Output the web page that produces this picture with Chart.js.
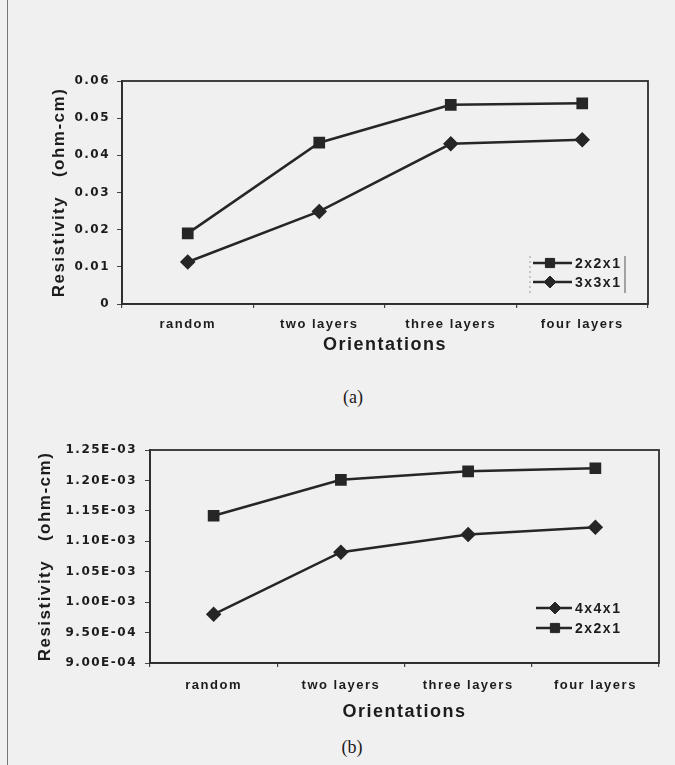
<!DOCTYPE html>
<html><head><meta charset="utf-8">
<script src="https://cdn.jsdelivr.net/npm/chart.js@4/dist/chart.umd.min.js"></script>
<style>
html,body{margin:0;padding:0;background:#f0f0f0;}
body{width:675px;height:765px;position:relative;overflow:hidden;}
.edge{position:absolute;left:7px;top:0;width:1px;height:765px;background:#777;}
#wa{position:absolute;left:0;top:50px;width:675px;height:314px;}
#wb{position:absolute;left:0;top:425px;width:675px;height:298px;}
.cap{position:absolute;font-family:"Liberation Serif",serif;font-size:18px;color:#1a1a1a;transform:translateX(-50%);}
</style></head><body>
<div class="edge"></div>
<div id="wa"><canvas id="ca"></canvas></div>
<div id="wb"><canvas id="cb"></canvas></div>
<div class="cap" style="left:353px;top:387px">(a)</div>
<div class="cap" style="left:352px;top:737px">(b)</div>
<script>
const orientations = ['random', 'two layers', 'three layers', 'four layers'];

// Figure (a)
const a_2x2x1 = [0.0190, 0.0434, 0.0536, 0.0540];
const a_3x3x1 = [0.0113, 0.0249, 0.0431, 0.0442];
const a_yTicks = ['0', '0.01', '0.02', '0.03', '0.04', '0.05', '0.06'];

// Figure (b)
const b_4x4x1 = [0.000980, 0.001082, 0.001111, 0.001123];
const b_2x2x1 = [0.001142, 0.001201, 0.001215, 0.001220];
const b_yTicks = ['9.00E-04', '9.50E-04', '1.00E-03', '1.05E-03', '1.10E-03', '1.15E-03', '1.20E-03', '1.25E-03'];

const INK = '#262626';
const TEXT = '#1c1c1c';
const SANS = '"Liberation Sans", Arial, sans-serif';
const WIDE = '"DejaVu Sans", sans-serif';

const spacing = {
  id: 'spacing',
  beforeUpdate(chart) { chart.ctx.letterSpacing = '1.5px'; },
  beforeDraw(chart) { chart.ctx.letterSpacing = '1.5px'; }
};

const frame = {
  id: 'frame',
  afterDraw(chart) {
    const {ctx, chartArea: a} = chart;
    ctx.save();
    ctx.strokeStyle = '#2e2e2e';
    ctx.lineWidth = 1.8;
    ctx.strokeRect(a.left, a.top, a.right - a.left, a.bottom - a.top);
    ctx.restore();
  }
};

const inLegend = {
  id: 'inLegend',
  afterDraw(chart, args, o) {
    const ctx = chart.ctx;
    ctx.save();
    chart.data.datasets.forEach((ds, i) => {
      const y = o.y + i * o.gap;
      ctx.strokeStyle = ds.borderColor;
      ctx.lineWidth = ds.borderWidth;
      ctx.beginPath(); ctx.moveTo(o.x, y); ctx.lineTo(o.x + o.len, y); ctx.stroke();
      ctx.fillStyle = ds.pointBackgroundColor;
      ctx.lineWidth = 1;
      Chart.helpers.drawPoint(ctx, {pointStyle: ds.pointStyle, radius: ds.pointRadius, borderWidth: 1, rotation: 0}, o.x + o.mark, y);
      ctx.fillStyle = TEXT;
      ctx.font = 'bold 14px ' + SANS;
      ctx.textBaseline = 'middle';
      ctx.textAlign = 'left';
      ctx.fillText(ds.label, o.x + o.len + 3, y + 1);
    });
    if (o.bracket) {
      ctx.strokeStyle = '#555'; ctx.lineWidth = 1;
      ctx.beginPath(); ctx.moveTo(o.bracket.r, o.bracket.t); ctx.lineTo(o.bracket.r, o.bracket.b); ctx.stroke();
      ctx.strokeStyle = '#999'; ctx.setLineDash([2, 3]);
      ctx.beginPath(); ctx.moveTo(o.bracket.l, o.bracket.t); ctx.lineTo(o.bracket.l, o.bracket.b); ctx.stroke();
    }
    ctx.restore();
  }
};

function ds(label, data, style, r) {
  return {
    label, data, borderColor: INK, backgroundColor: INK, borderWidth: 2.5,
    pointStyle: style, pointRadius: r, pointHoverRadius: r,
    pointBackgroundColor: INK, pointBorderColor: INK, tension: 0
  };
}

function makeChart(id, datasets, y, layout, legendOpts) {
  return new Chart(document.getElementById(id), {
    type: 'line',
    data: {labels: orientations, datasets},
    plugins: [spacing, frame, inLegend],
    options: {
      responsive: true, maintainAspectRatio: false, animation: false,
      layout: {padding: layout.padding},
      plugins: {legend: {display: false}, tooltip: {enabled: false}, inLegend: legendOpts},
      scales: {
        x: {
          type: 'category', offset: true,
          grid: {display: true, drawOnChartArea: false, drawTicks: true, tickLength: 4, offset: true, color: '#444', lineWidth: 1.2},
          border: {display: true, color: '#2e2e2e', width: 1.8},
          ticks: {font: {family: SANS, size: 13, weight: 'bold'}, color: TEXT, padding: layout.xPad, maxRotation: 0, autoSkip: false},
          title: {display: true, text: 'Orientations', color: TEXT,
                  font: {family: SANS, size: 18, weight: 'bold'}, padding: {top: 0, bottom: layout.xTitleBottom}},
          afterFit: s => { s.height = 60; }
        },
        y: {
          type: 'linear', min: y.min, max: y.max,
          ticks: {stepSize: y.step, font: {family: WIDE, size: 12, weight: 'bold'}, color: TEXT, padding: layout.yPad,
                  callback: (v, i) => y.labels[i]},
          grid: {display: true, drawOnChartArea: false, drawTicks: true, tickLength: 5, color: '#444'},
          border: {display: true, color: '#2e2e2e', width: 1.8},
          title: {display: true, text: 'Resistivity   (ohm-cm)', color: TEXT,
                  font: {family: SANS, size: 17, weight: 'bold'}, padding: {top: layout.yTitleTop, bottom: 0}},
          afterFit: s => { s.width = layout.yWidth; }
        }
      }
    }
  });
}

makeChart('ca',
  [ds('2x2x1', a_2x2x1, 'rect', 6.5), ds('3x3x1', a_3x3x1, 'rectRot', 6)],
  {min: 0, max: 0.06, step: 0.01, labels: a_yTicks},
  {padding: {top: 31, right: 27, left: 0, bottom: 0}, xPad: 9, xTitleBottom: 8, yPad: 7, yTitleTop: 49, yWidth: 122},
  {x: 533, y: 213, gap: 19, len: 39, mark: 17, bracket: {l: 530, r: 625, t: 206, b: 243}}
);

makeChart('cb',
  [ds('4x4x1', b_4x4x1, 'rectRot', 6), ds('2x2x1', b_2x2x1, 'rect', 6.5)],
  {min: 0.0009, max: 0.00125, step: 0.00005, labels: b_yTicks},
  {padding: {top: 25, right: 16, left: 0, bottom: 0}, xPad: 11, xTitleBottom: 0, yPad: 8, yTitleTop: 35, yWidth: 150},
  {x: 536, y: 183, gap: 20, len: 36, mark: 19}
);
</script>
</body></html>
